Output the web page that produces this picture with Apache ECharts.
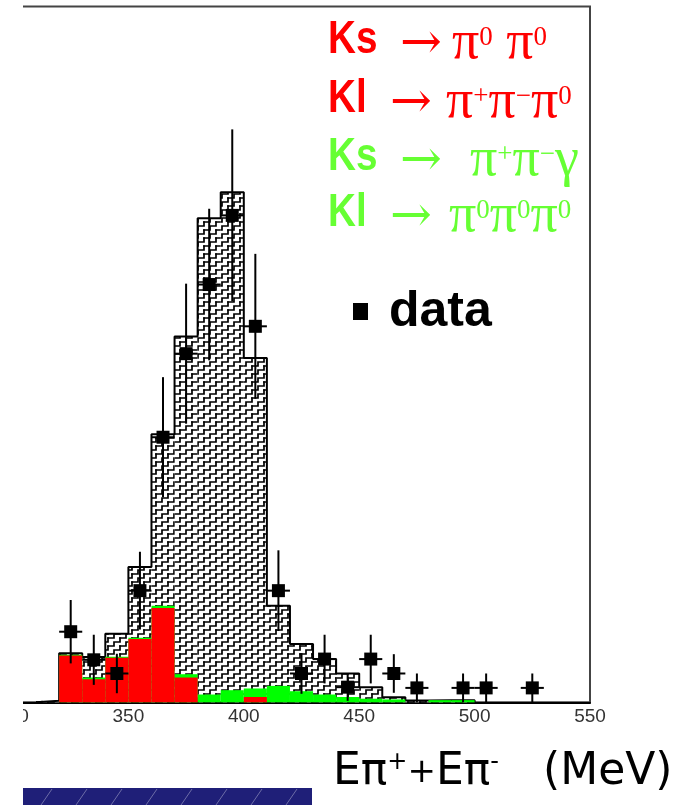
<!DOCTYPE html>
<html><head><meta charset="utf-8">
<script src="https://cdn.jsdelivr.net/npm/echarts@6/dist/echarts.min.js"></script>
<style>html,body{margin:0;padding:0;background:#fff}#c{width:677px;height:805px}</style>
</head><body><div id="c"></div><script>
// ---- data (bin lower edges, 10 MeV bins) ----
const binLow   = [310,320,330,340,350,360,370,380,390,400,410,420,430,440,450,460,470,480,490];
const mcTotal  = [0.1,3.4,3.15,4.75,9.4,18.6,25.4,33.6,35.4,23.9,6.7,4.05,3.0,2.0,1.05,0.35,0.12,0.15,0.15];
const bkgRed   = [0,3.25,1.6,3.1,4.4,6.55,1.72,0,0,0.37,0,0,0,0,0,0,0,0,0];
const bkgGreen = [0,0.05,0.12,0.07,0.08,0.16,0.23,0.54,0.84,0.59,1.14,0.77,0.54,0.37,0.25,0.2,0,0.15,0.15];
const dataX    = [325,335,345,355,365,375,385,395,405,415,425,435,445,455,465,475,495,505,525];
const dataY    = [4.9,2.95,2.0,7.75,18.4,24.2,29.0,33.8,26.1,7.75,2.0,3.0,1.05,3.0,2.0,1.0,1.0,1.0,1.0];
const dataErr  = [2.2,1.74,1.37,2.7,4.17,4.86,5.26,5.97,5.03,2.8,1.41,1.69,0.95,1.69,1.34,1.0,1.0,1.0,1.0];
const xTicks   = [300,350,400,450,500,550];
const binWidth = 10;

function makeHatch(){
  const W=12,H=8; const c=document.createElement('canvas'); c.width=W; c.height=H;
  const g=c.getContext('2d'); g.fillStyle='#fff'; g.fillRect(0,0,W,H);
  g.strokeStyle='#000'; g.lineWidth=1.7; g.lineCap='square';
  for (const dx of [-W,0,W]) for (const dy of [-H,0,H]) {
    g.beginPath(); g.moveTo(dx,dy+6); g.lineTo(dx+6,dy+6); g.lineTo(dx+6,dy+2);
    g.lineTo(dx+12,dy+2); g.lineTo(dx+12,dy-2); g.stroke();
  }
  return c;
}
const hatch = {image: makeHatch(), repeat: 'repeat'};

function binRender(fill){
  return function(params, api){
    const p0 = api.coord([api.value(0), 0]);
    const p1 = api.coord([api.value(1), api.value(2)]);
    return {type:'rect', shape:{x:p0[0], y:p1[1], width:p1[0]-p0[0], height:p0[1]-p1[1]}, style:{fill: fill}};
  };
}
const mcBins = binLow.map((lo,i)=>[lo, lo+binWidth, mcTotal[i]]);
const greenBins = binLow.map((lo,i)=>[lo, lo+binWidth, bkgRed[i]+bkgGreen[i]]);
const redBins = binLow.map((lo,i)=>[lo, lo+binWidth, bkgRed[i]]);
const outline = [[binLow[0],0]];
binLow.forEach((lo,i)=>{ outline.push([lo, mcTotal[i]]); outline.push([lo+binWidth, mcTotal[i]]); });
outline.push([binLow[binLow.length-1]+binWidth, 0]);
const pts = dataX.map((x,i)=>[x, dataY[i], dataErr[i]]);

const chart = echarts.init(document.getElementById('c'), null, {renderer:'canvas'});
const red = '#ff0000', green = '#66ff33';
const supStyle = (col)=>({fontFamily:'Liberation Serif', fontSize:27, verticalAlign:'top', padding:[10,0,0,0], fill:col});
const piStyle = (col)=>({fontFamily:'Liberation Serif', fontSize:54, lineHeight:60, fill:col});
function legendLine(y, name, prod, col){
  return [
    {type:'text', x:328, y:y, scaleX:0.84, z:110, style:{text:name, x:0, y:0, font:'bold 46px "Liberation Sans"', fill:col, verticalAlign:'middle'}},
    {type:'text', x: name==='Ks'?400:390, y:y+5, z:110, style:{text:'\u2192', x:0, y:0, font:'50px "DejaVu Serif"', fill:col, verticalAlign:'middle'}},
    {type:'text', x: prod.x, y:y+4, z:110, style:{text:prod.t, x:0, y:0, fill:col, verticalAlign:'middle', rich:{p:piStyle(col), s:supStyle(col)}}}
  ];
}
const graphics = [
  {type:'rect', z:100, shape:{x:0,y:0,width:23,height:735}, style:{fill:'#fff'}},
  ...legendLine(40, 'Ks', {x:452, t:'{p|\u03c0}{s|0}{p| \u03c0}{s|0}'}, red),
  ...legendLine(99, 'Kl', {x:446, t:'{p|\u03c0}{s|+}{p|\u03c0}{s|\u2212}{p|\u03c0}{s|0}'}, red),
  ...legendLine(157, 'Ks', {x:470, t:'{p|\u03c0}{s|+}{p|\u03c0}{s|\u2212}{p|\u03b3}'}, green),
  ...legendLine(213, 'Kl', {x:449, t:'{p|\u03c0}{s|0}{p|\u03c0}{s|0}{p|\u03c0}{s|0}'}, green),
  {type:'rect', z:110, shape:{x:353,y:303,width:15,height:17}, style:{fill:'#000'}},
  {type:'text', x:389, y:312, z:110, style:{text:'data', x:0, y:0, font:'bold 50px "Liberation Sans"', fill:'#000', verticalAlign:'middle'}},
  {type:'text', x:333, y:773, z:110, style:{text:'{m|E\u03c0}{s|+}{p|+}{m|E\u03c0}{s|-}', x:0, y:0, verticalAlign:'middle', fill:'#000',
     rich:{m:{fontFamily:'DejaVu Sans', fontSize:44, lineHeight:52, fill:'#000'},
           p:{fontFamily:'DejaVu Sans', fontSize:34, lineHeight:52, fill:'#000'},
           s:{fontFamily:'DejaVu Sans', fontSize:24, verticalAlign:'top', padding:[4,0,0,0], fill:'#000'}}}},
  {type:'text', x:543, y:773, z:110, style:{text:'(MeV)', x:0, y:0, font:'44px "DejaVu Sans"', fill:'#000', verticalAlign:'middle'}},
  {type:'rect', z:110, shape:{x:23,y:788,width:289,height:17}, style:{fill:'#1f1f78'}}
];
for (let k=0;k<8;k++){ const x=46+35*k; graphics.push({type:'line', z:111, shape:{x1:x-5,y1:805,x2:x+6,y2:789}, style:{stroke:'rgba(255,255,255,0.35)', lineWidth:1}}); }

chart.setOption({
  animation:false,
  backgroundColor:'#fff',
  grid:{left:13, right:87, top:6.5, bottom:102.7, show:true, borderColor:'#444', borderWidth:2, containLabel:false, outerBoundsMode:'none'},
  xAxis:{type:'value', min:xTicks[0], max:xTicks[xTicks.length-1], interval:50,
    axisLine:{show:true, onZero:false, lineStyle:{color:'#000', width:2}}, axisTick:{show:false}, splitLine:{show:false},
    axisLabel:{fontSize:19, color:'#333', margin:5, fontFamily:'Liberation Sans', showMinLabel:true, showMaxLabel:true}},
  yAxis:{type:'value', min:0, max:48.3, show:false, splitLine:{show:false}},
  graphic: graphics,
  series:[
    {type:'custom', name:'MC', z:1, data:mcBins, encode:{x:[0,1], y:2}, renderItem:binRender(hatch), silent:true},
    {type:'line', name:'MCoutline', z:2, data:outline, symbol:'none', showSymbol:false, lineStyle:{color:'#000', width:2}, silent:true},
    {type:'custom', name:'green', z:3, data:greenBins, encode:{x:[0,1], y:2}, renderItem:binRender('#00ff00'), silent:true},
    {type:'custom', name:'red', z:4, data:redBins, encode:{x:[0,1], y:2}, renderItem:binRender(red), silent:true},
    {type:'custom', name:'data', z:5, data:pts, encode:{x:0, y:1}, silent:true,
     renderItem:(params, api)=>{
       const x=api.value(0), y=api.value(1), e=api.value(2);
       const c=api.coord([x,y]), t=api.coord([x,y+e]), b=api.coord([x,Math.max(0,y-e)]);
       const l=api.coord([x-binWidth/2,y]), r=api.coord([x+binWidth/2,y]);
       return {type:'group', children:[
         {type:'line', shape:{x1:c[0],y1:t[1],x2:c[0],y2:b[1]}, style:{stroke:'#000', lineWidth:2}},
         {type:'line', shape:{x1:l[0],y1:c[1],x2:r[0],y2:c[1]}, style:{stroke:'#000', lineWidth:2}},
         {type:'rect', shape:{x:c[0]-6.5,y:c[1]-6.5,width:13,height:13}, style:{fill:'#000'}}
       ]};
     }}
  ]
});
</script></body></html>
